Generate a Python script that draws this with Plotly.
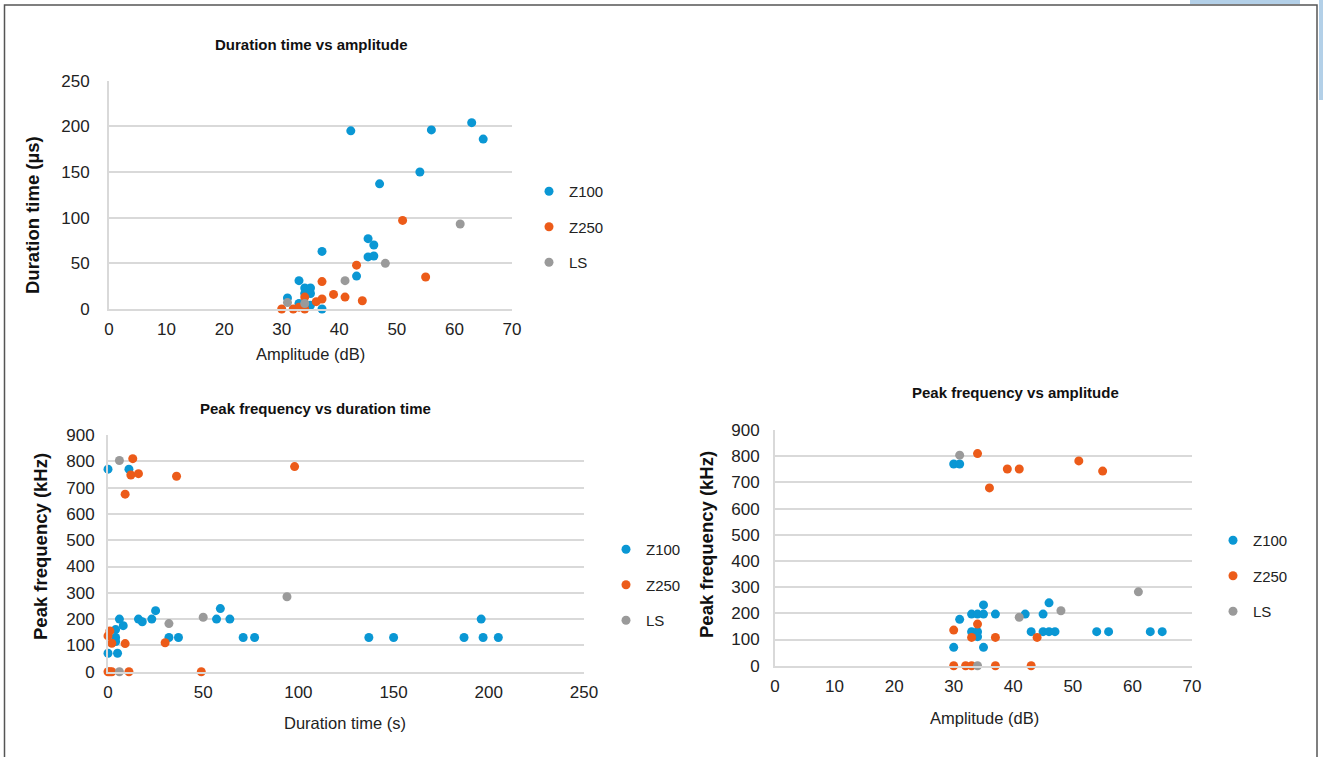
import plotly.graph_objects as go

W, H = 1323, 757

# ---------- data ----------
series_names = ["Z100", "Z250", "LS"]
series_colors = ["#0A97D4", "#EC5B19", "#9A9A9A"]

# Chart 1: duration time (µs) vs amplitude (dB)
z100_amp_c1 = [42, 56, 63, 65, 54, 47, 37, 45, 46, 45, 46, 43, 33, 34, 35, 34, 35, 31, 33, 35, 37]
z100_dur_c1 = [195, 196, 204, 186, 150, 137, 63, 77, 70, 57, 58, 36, 31, 23, 23, 17, 17, 12, 6, 4, 0]
z250_amp_c1 = [51, 55, 43, 37, 39, 41, 44, 37, 36, 34, 30, 32, 33, 34]
z250_dur_c1 = [97, 35, 48, 30, 16, 13, 9, 11, 8, 13, 0, 0, 2, 0]
ls_amp_c1 = [61, 48, 41, 31, 34]
ls_dur_c1 = [93, 50, 31, 7, 6]

# Chart 2: peak frequency (kHz) vs duration time (s)
z100_dur_c2 = [0, 11, 0, 5, 6, 8, 4, 4, 4, 16, 18, 23, 25, 32, 37, 57, 59, 64, 71, 77, 137, 150, 187, 196, 197, 205]
z100_pf_c2 = [770, 770, 70, 70, 200, 175, 160, 130, 115, 200, 190, 200, 232, 130, 130, 200, 240, 200, 130, 130, 130, 130, 130, 200, 130, 130]
z250_dur_c2 = [13, 98, 12, 16, 36, 9, 0, 1, 2, 9, 30, 0, 1, 2, 11, 49]
z250_pf_c2 = [810, 780, 748, 753, 743, 675, 136, 155, 108, 107, 110, 0, 0, 0, 0, 0]
ls_dur_c2 = [6, 94, 50, 32, 6]
ls_pf_c2 = [803, 285, 207, 183, 0]

# Chart 3: peak frequency (kHz) vs amplitude (dB)
z100_amp_c3 = [30, 31, 31, 30, 33, 34, 35, 35, 37, 33, 34, 34, 35, 42, 43, 45, 46, 45, 46, 47, 54, 56, 63, 65]
z100_pf_c3 = [770, 770, 177, 70, 197, 197, 197, 232, 197, 130, 130, 111, 70, 197, 130, 197, 240, 130, 130, 130, 130, 130, 130, 130]
z250_amp_c3 = [34, 39, 41, 36, 51, 55, 30, 33, 34, 37, 44, 30, 32, 33, 37, 43]
z250_pf_c3 = [810, 751, 751, 679, 782, 743, 136, 108, 159, 108, 108, 0, 0, 0, 0, 0]
ls_amp_c3 = [31, 61, 48, 41, 34]
ls_pf_c3 = [804, 282, 210, 185, 0]

chart_titles = ["Duration time vs amplitude", "Peak frequency vs duration time", "Peak frequency vs amplitude"]
x_titles = ["Amplitude (dB)", "Duration time (s)", "Amplitude (dB)"]
y_titles = ["Duration time (µs)", "Peak frequency (kHz)", "Peak frequency (kHz)"]

# ---------- figure ----------
FONT = "Liberation Sans, Arial, sans-serif"
fig = go.Figure()

charts = [
    ([z100_amp_c1, z250_amp_c1, ls_amp_c1], [z100_dur_c1, z250_dur_c1, ls_dur_c1]),
    ([z100_dur_c2, z250_dur_c2, ls_dur_c2], [z100_pf_c2, z250_pf_c2, ls_pf_c2]),
    ([z100_amp_c3, z250_amp_c3, ls_amp_c3], [z100_pf_c3, z250_pf_c3, ls_pf_c3]),
]
axis_ids = [("x", "y"), ("x2", "y2"), ("x3", "y3")]
legend_ids = ["legend", "legend2", "legend3"]

for ci, (xs, ys) in enumerate(charts):
    xa, ya = axis_ids[ci]
    for si in range(3):
        fig.add_trace(go.Scatter(
            x=xs[si], y=ys[si], mode="markers", name=series_names[si],
            marker=dict(color=series_colors[si], size=9, line=dict(width=0)),
            xaxis=xa, yaxis=ya, cliponaxis=False,
            legend=legend_ids[ci], legendgroup=f"c{ci}s{si}",
        ))

def px_x(p):
    return p / W

def px_y(p):
    return 1 - p / H

# plot areas in pixels: (left, right, top, bottom)
areas = [(109, 512, 80.6, 309), (108, 584, 435, 671.7), (775, 1192, 430, 665.7)]
xranges = [[0, 70], [0, 250], [0, 70]]
yranges = [[0, 250], [0, 900], [0, 900]]
xdticks = [10, 50, 10]
ydticks = [50, 100, 100]
ytick_gap = [14, 8, 10]

GRID = "#D9D9D9"
TICKFONT = dict(family=FONT, size=17, color="#222222")

layout_axes = {}
for ci in range(3):
    l, r, t, b = areas[ci]
    suffix = "" if ci == 0 else str(ci + 1)
    layout_axes["xaxis" + suffix] = dict(
        domain=[px_x(l), px_x(r)], range=xranges[ci], dtick=xdticks[ci], tick0=0,
        showgrid=False, zeroline=False, showline=True, linecolor=GRID, linewidth=2,
        anchor="y" + suffix, tickfont=TICKFONT, ticks="outside", ticklen=4, tickcolor="rgba(0,0,0,0)",
        fixedrange=True,
    )
    layout_axes["yaxis" + suffix] = dict(
        domain=[px_y(b), px_y(t)], range=yranges[ci], dtick=ydticks[ci], tick0=0,
        showgrid=True, gridcolor=GRID, gridwidth=2, zeroline=False,
        showline=True, linecolor=GRID, linewidth=2,
        anchor="x" + suffix, tickfont=TICKFONT, ticks="outside", ticklen=ytick_gap[ci],
        tickcolor="rgba(0,0,0,0)", fixedrange=True,
    )

annotations = []
title_pos = [(311, 45), (315, 408), (1015, 393)]
for ci in range(3):
    annotations.append(dict(text=f"<b>{chart_titles[ci]}</b>", x=px_x(title_pos[ci][0]), y=px_y(title_pos[ci][1]),
                            xref="paper", yref="paper", showarrow=False, xanchor="center", yanchor="middle",
                            font=dict(family=FONT, size=15, color="#111111")))
xtitle_pos = [(310, 354), (345, 723), (985, 718)]
for ci in range(3):
    annotations.append(dict(text=x_titles[ci], x=px_x(xtitle_pos[ci][0]), y=px_y(xtitle_pos[ci][1]),
                            xref="paper", yref="paper", showarrow=False, xanchor="center", yanchor="middle",
                            font=dict(family=FONT, size=16.5, color="#222222")))
ytitle_pos = [(32, 215), (40, 547), (706, 545)]
for ci in range(3):
    annotations.append(dict(text=f"<b>{y_titles[ci]}</b>", x=px_x(ytitle_pos[ci][0]), y=px_y(ytitle_pos[ci][1]),
                            xref="paper", yref="paper", showarrow=False, xanchor="center", yanchor="middle",
                            textangle=-90, font=dict(family=FONT, size=18.5, color="#111111")))

legend_style = dict(font=dict(family=FONT, size=15, color="#222222"), bgcolor="rgba(0,0,0,0)",
                    tracegroupgap=13, itemwidth=30, xanchor="left", yanchor="top", borderwidth=0)
leg_pos = [(549, 189), (626, 547), (1233, 538)]
legends = {}
for ci in range(3):
    mx, my = leg_pos[ci]
    legends[legend_ids[ci]] = dict(legend_style, x=px_x(mx - 20), y=px_y(my - 14))

shapes = [
    dict(type="rect", xref="paper", yref="paper", x0=px_x(4.5), x1=px_x(1317), y0=-0.02, y1=px_y(5),
         line=dict(color="#555555", width=1.5), fillcolor="rgba(0,0,0,0)", layer="below"),
    dict(type="rect", xref="paper", yref="paper", x0=px_x(1190), x1=px_x(1300), y0=px_y(4), y1=1.0,
         line=dict(width=0), fillcolor="#B3D0E8", layer="below"),
    dict(type="rect", xref="paper", yref="paper", x0=px_x(1319), x1=1.0, y0=px_y(100), y1=1.0,
         line=dict(width=0), fillcolor="#B3D0E8", layer="below"),
]

fig.update_layout(
    autosize=True,
    margin=dict(l=0, r=0, t=0, b=0, autoexpand=False),
    paper_bgcolor="white", plot_bgcolor="white",
    font=dict(family=FONT),
    annotations=annotations, shapes=shapes,
    **layout_axes, **legends,
)

css_fix = (
    "var s=document.createElement('style');"
    "s.innerHTML='html,body{margin:0!important;padding:0!important;overflow:hidden!important;}';"
    "document.head.appendChild(s);"
)
fig.write_html(
    "out.html",
    post_script=css_fix,
    config={"displayModeBar": False},
    default_width=f"{W}px; position:fixed; left:0; top:0",
    default_height=f"{H}px",
)
